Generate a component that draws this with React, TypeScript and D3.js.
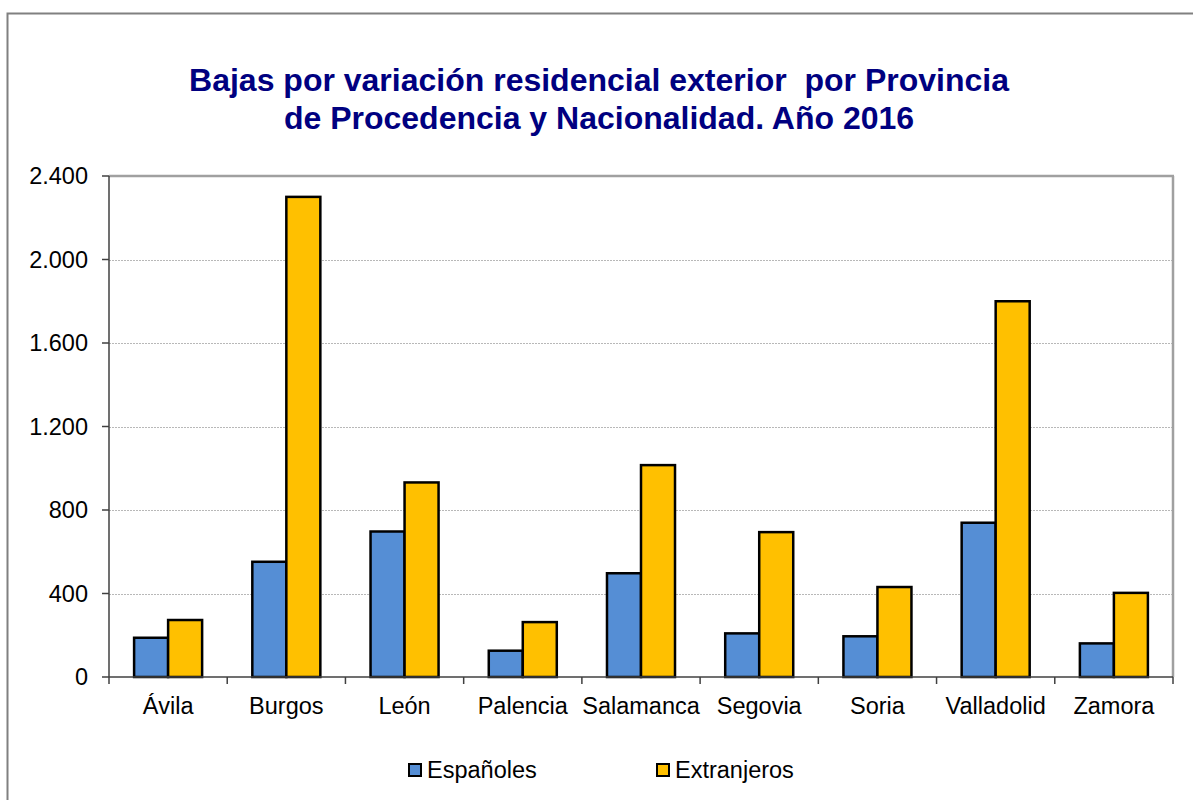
import React from "react";
import * as d3 from "d3";

const categories = ["Ávila", "Burgos", "León", "Palencia", "Salamanca", "Segovia", "Soria", "Valladolid", "Zamora"];
const espanoles = [188, 552, 697, 126, 497, 209, 195, 739, 161];
const extranjeros = [273, 2300, 932, 263, 1015, 694, 431, 1800, 403];
const seriesNames = ["Españoles", "Extranjeros"];
const seriesColors = ["#558ED5", "#FFC000"];
const yTicks = [0, 400, 800, 1200, 1600, 2000, 2400];
const titleLines = [
  "Bajas por variación residencial exterior  por Provincia",
  "de Procedencia y Nacionalidad. Año 2016",
];

const W = 1193;
const H = 800;
const left = 109;
const right = 1173;
const top = 176;
const bottom = 677;

const fmt = (v: number) => {
  const s = String(v);
  return s.length > 3 ? s.slice(0, s.length - 3) + "." + s.slice(s.length - 3) : s;
};

export default function App() {
  const x0 = d3.scaleBand<string>().domain(categories).range([left, right]).padding(0);
  const x1 = d3
    .scaleBand<string>()
    .domain(seriesNames)
    .range([0, x0.bandwidth()])
    .paddingInner(0)
    .paddingOuter(0.738);
  const y = d3.scaleLinear().domain([0, 2400]).range([bottom, top]);
  const data = [espanoles, extranjeros];
  const font = "Liberation Sans, Arial, sans-serif";
  const fs = 23.5;

  return (
    <svg
      width={W}
      height={H}
      style={{ position: "absolute", left: 0, top: 0, display: "block", background: "#fff" }}
    >
      <rect x={0} y={0} width={W} height={H} fill="#fff" />
      <rect x={7.5} y={13.5} width={1300} height={900} fill="none" stroke="#808080" strokeWidth={2} />
      {titleLines.map((t, i) => (
        <text
          key={i}
          x={599}
          y={91 + i * 38}
          textAnchor="middle"
          fontFamily={font}
          fontWeight="bold"
          fontSize={32}
          fill="#000080"
          style={{ whiteSpace: "pre" }}
        >
          {t}
        </text>
      ))}
      {/* gridlines */}
      {yTicks.filter((t) => t > 0 && t < 2400).map((t) => (
        <line
          key={t}
          x1={left}
          x2={right}
          y1={Math.round(y(t)) + 0.5}
          y2={Math.round(y(t)) + 0.5}
          stroke="#b8b8b8"
          strokeWidth={1}
          strokeDasharray="2,1"
        />
      ))}
      {/* plot frame top/right */}
      <line x1={left} x2={right + 1} y1={top} y2={top} stroke="#a0a0a0" strokeWidth={2.5} />
      <line x1={right} x2={right} y1={top} y2={bottom} stroke="#a0a0a0" strokeWidth={2.5} />
      {/* bars */}
      {categories.map((c, i) => (
        <g key={c} transform={`translate(${x0(c)},0)`}>
          {seriesNames.map((s, j) => (
            <rect
              key={s}
              x={x1(s)}
              y={y(data[j][i])}
              width={x1.bandwidth()}
              height={bottom - y(data[j][i])}
              fill={seriesColors[j]}
              stroke="#000"
              strokeWidth={2.5}
            />
          ))}
        </g>
      ))}
      {/* y axis */}
      <line x1={left} x2={left} y1={top} y2={bottom} stroke="#404040" strokeWidth={1.5} />
      {yTicks.map((t) => (
        <g key={t}>
          <line x1={left - 7} x2={left} y1={y(t)} y2={y(t)} stroke="#404040" strokeWidth={1.5} />
          <text
            x={88}
            y={y(t) + 8.4}
            textAnchor="end"
            fontFamily={font}
            fontSize={fs}
            fill="#000"
          >
            {fmt(t)}
          </text>
        </g>
      ))}
      {/* x axis */}
      <line x1={left} x2={right} y1={bottom} y2={bottom} stroke="#404040" strokeWidth={1.5} />
      {categories.map((c) => (
        <line
          key={"t" + c}
          x1={(x0(c) as number)}
          x2={(x0(c) as number)}
          y1={bottom}
          y2={bottom + 7}
          stroke="#404040"
          strokeWidth={1.5}
        />
      ))}
      <line x1={right} x2={right} y1={bottom} y2={bottom + 7} stroke="#404040" strokeWidth={1.5} />
      {categories.map((c) => (
        <text
          key={"l" + c}
          x={(x0(c) as number) + x0.bandwidth() / 2}
          y={714}
          textAnchor="middle"
          fontFamily={font}
          fontSize={fs}
          fill="#000"
        >
          {c}
        </text>
      ))}
      {/* legend */}
      {seriesNames.map((s, j) => {
        const lx = j === 0 ? 409 : 657;
        return (
          <g key={"lg" + s}>
            <rect x={lx} y={764} width={12} height={12} fill={seriesColors[j]} stroke="#000" strokeWidth={2} />
            <text x={lx + 18} y={778} fontFamily={font} fontSize={fs} fill="#000">
              {s}
            </text>
          </g>
        );
      })}
    </svg>
  );
}
